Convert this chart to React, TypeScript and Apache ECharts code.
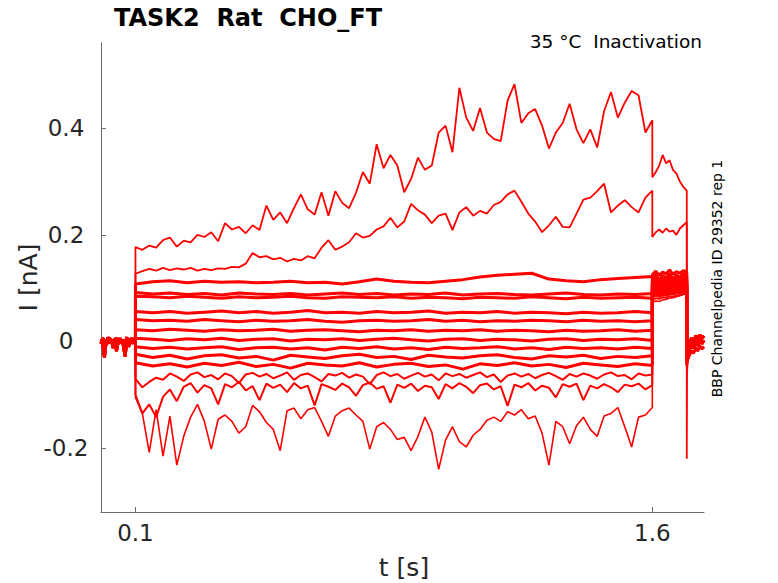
import React, { useEffect, useRef } from "react";
import * as echarts from "echarts";

// Time windows (s): holding 0..0.1, prepulse 0.1..1.6, test 1.6..1.7, tail 1.7..1.75
const xTicks = [0.1, 1.6];
const yTicks = [-0.2, 0, 0.2, 0.4];

// Holding segment, shared by the sweeps (nA)
const preA = [0.004, -0.002, -0.03, 0.003, -0.004, 0.006, 0.0, -0.006, 0.005, -0.018, 0.002, -0.003, 0.004, -0.008, -0.028, 0.003, -0.002, 0.005, -0.004, 0.002, 0.0];
const preB = [-0.004, 0.006, 0.001, -0.008, 0.008, -0.003, 0.004, -0.012, 0.002, 0.007, -0.005, 0.006, -0.002, 0.003, -0.006, 0.008, -0.01, 0.002, 0.006, -0.003, 0.004];

// Prepulse segment per sweep (nA)
const main1 = [0.177, 0.172, 0.18, 0.176, 0.19, 0.195, 0.178, 0.189, 0.186, 0.2, 0.196, 0.205, 0.188, 0.222, 0.21, 0.215, 0.203, 0.218, 0.209, 0.255, 0.228, 0.242, 0.222, 0.25, 0.276, 0.248, 0.238, 0.28, 0.236, 0.282, 0.26, 0.25, 0.279, 0.318, 0.296, 0.37, 0.325, 0.35, 0.33, 0.28, 0.305, 0.345, 0.322, 0.33, 0.392, 0.405, 0.355, 0.476, 0.42, 0.395, 0.438, 0.392, 0.38, 0.376, 0.452, 0.483, 0.41, 0.428, 0.436, 0.405, 0.362, 0.392, 0.41, 0.446, 0.398, 0.372, 0.398, 0.364, 0.432, 0.468, 0.42, 0.448, 0.47, 0.462, 0.392, 0.415];
const main2 = [0.127, 0.132, 0.136, 0.133, 0.138, 0.134, 0.137, 0.135, 0.138, 0.133, 0.136, 0.134, 0.137, 0.136, 0.14, 0.139, 0.146, 0.166, 0.158, 0.16, 0.154, 0.157, 0.15, 0.155, 0.152, 0.16, 0.156, 0.176, 0.19, 0.172, 0.178, 0.186, 0.203, 0.195, 0.198, 0.21, 0.216, 0.232, 0.214, 0.225, 0.258, 0.246, 0.238, 0.222, 0.236, 0.24, 0.209, 0.242, 0.252, 0.236, 0.245, 0.24, 0.256, 0.262, 0.276, 0.283, 0.262, 0.24, 0.225, 0.205, 0.218, 0.234, 0.215, 0.214, 0.24, 0.266, 0.27, 0.282, 0.296, 0.242, 0.255, 0.265, 0.252, 0.242, 0.27, 0.283];
const main3 = [0.108, 0.112, 0.114, 0.11, 0.113, 0.111, 0.112, 0.11, 0.111, 0.113, 0.11, 0.111, 0.108, 0.112, 0.117, 0.113, 0.111, 0.11, 0.113, 0.116, 0.121, 0.124, 0.126, 0.128, 0.117, 0.114, 0.112, 0.116, 0.118, 0.12, 0.122];
const main4 = [0.092, 0.089, 0.091, 0.088, 0.09, 0.087, 0.091, 0.089, 0.088, 0.09, 0.087, 0.089, 0.091, 0.088, 0.09, 0.087, 0.089, 0.088, 0.091, 0.087, 0.089, 0.09, 0.088, 0.087, 0.089, 0.091, 0.088, 0.087, 0.089, 0.088, 0.09];
const main5 = [0.085, 0.084, 0.082, 0.085, 0.083, 0.081, 0.084, 0.082, 0.083, 0.085, 0.082, 0.081, 0.084, 0.083, 0.082, 0.084, 0.081, 0.083, 0.082, 0.08, 0.083, 0.082, 0.081, 0.084, 0.082, 0.08, 0.083, 0.081, 0.082, 0.083, 0.081];
const main6 = [0.056, 0.054, 0.056, 0.053, 0.055, 0.057, 0.054, 0.056, 0.053, 0.055, 0.058, 0.054, 0.055, 0.053, 0.056, 0.054, 0.055, 0.057, 0.053, 0.055, 0.054, 0.056, 0.053, 0.055, 0.054, 0.052, 0.055, 0.053, 0.054, 0.056, 0.054];
const main7 = [0.041, 0.039, 0.04, 0.038, 0.041, 0.039, 0.037, 0.04, 0.038, 0.039, 0.041, 0.038, 0.036, 0.039, 0.04, 0.038, 0.039, 0.041, 0.038, 0.04, 0.037, 0.039, 0.038, 0.04, 0.039, 0.037, 0.04, 0.038, 0.039, 0.037, 0.039];
const main8 = [0.022, 0.02, 0.023, 0.021, 0.019, 0.022, 0.02, 0.021, 0.023, 0.019, 0.021, 0.022, 0.02, 0.018, 0.021, 0.02, 0.022, 0.019, 0.021, 0.02, 0.022, 0.019, 0.021, 0.02, 0.018, 0.021, 0.019, 0.02, 0.022, 0.019, 0.021];
const main9 = [0.006, 0.004, 0.002, 0.005, 0.003, 0.006, 0.002, 0.004, 0.005, 0.001, 0.004, 0.003, 0.005, 0.002, 0.004, 0.006, 0.003, 0.001, 0.004, 0.005, 0.002, 0.004, 0.003, 0.001, 0.004, 0.005, 0.002, 0.004, 0.003, 0.005, 0.002];
const main10 = [-0.01, -0.013, -0.011, -0.014, -0.012, -0.01, -0.015, -0.012, -0.011, -0.014, -0.012, -0.016, -0.011, -0.013, -0.01, -0.014, -0.012, -0.015, -0.011, -0.013, -0.012, -0.01, -0.014, -0.012, -0.015, -0.011, -0.013, -0.012, -0.014, -0.011, -0.013];
const main11 = [-0.024, -0.03, -0.026, -0.033, -0.027, -0.025, -0.031, -0.028, -0.035, -0.026, -0.029, -0.032, -0.027, -0.024, -0.03, -0.028, -0.034, -0.026, -0.029, -0.031, -0.027, -0.025, -0.03, -0.033, -0.027, -0.029, -0.026, -0.032, -0.028, -0.03, -0.027];
const main12 = [-0.04, -0.046, -0.042, -0.048, -0.041, -0.045, -0.039, -0.047, -0.043, -0.05, -0.041, -0.044, -0.046, -0.04, -0.048, -0.043, -0.041, -0.047, -0.044, -0.052, -0.042, -0.045, -0.04, -0.046, -0.043, -0.049, -0.041, -0.044, -0.047, -0.042, -0.045];
const main13 = [-0.07, -0.086, -0.076, -0.068, -0.072, -0.06, -0.066, -0.074, -0.062, -0.058, -0.067, -0.063, -0.071, -0.06, -0.065, -0.078, -0.062, -0.059, -0.066, -0.061, -0.069, -0.064, -0.058, -0.072, -0.063, -0.06, -0.067, -0.075, -0.061, -0.064, -0.059, -0.068, -0.062, -0.066, -0.08, -0.063, -0.058, -0.065, -0.061, -0.07, -0.064, -0.059, -0.066, -0.062, -0.073, -0.06, -0.065, -0.061, -0.068, -0.063, -0.058, -0.067, -0.062, -0.076, -0.064, -0.06, -0.066, -0.061, -0.069, -0.063, -0.059, -0.065, -0.072, -0.061, -0.066, -0.06, -0.064, -0.07, -0.062, -0.058, -0.065, -0.063, -0.071, -0.06, -0.064, -0.062];
const main14 = [-0.1, -0.135, -0.118, -0.142, -0.104, -0.09, -0.112, -0.085, -0.078, -0.096, -0.082, -0.088, -0.118, -0.08, -0.086, -0.076, -0.092, -0.084, -0.11, -0.079, -0.087, -0.081, -0.095, -0.078, -0.088, -0.083, -0.12, -0.08, -0.085, -0.091, -0.079, -0.086, -0.102, -0.082, -0.077, -0.089, -0.084, -0.115, -0.081, -0.087, -0.079, -0.093, -0.083, -0.086, -0.108, -0.08, -0.088, -0.078, -0.085, -0.097, -0.082, -0.079, -0.09, -0.084, -0.121, -0.081, -0.086, -0.078, -0.092, -0.083, -0.087, -0.105, -0.08, -0.085, -0.079, -0.11, -0.083, -0.088, -0.08, -0.086, -0.095, -0.081, -0.084, -0.079, -0.09, -0.082];
const main15 = [-0.105, -0.135, -0.208, -0.128, -0.215, -0.14, -0.232, -0.178, -0.142, -0.118, -0.15, -0.202, -0.146, -0.138, -0.15, -0.172, -0.16, -0.12, -0.132, -0.152, -0.165, -0.205, -0.13, -0.125, -0.145, -0.128, -0.124, -0.15, -0.178, -0.14, -0.13, -0.125, -0.138, -0.15, -0.202, -0.16, -0.152, -0.165, -0.184, -0.18, -0.205, -0.178, -0.142, -0.17, -0.24, -0.185, -0.16, -0.188, -0.198, -0.176, -0.165, -0.148, -0.142, -0.15, -0.132, -0.138, -0.128, -0.145, -0.14, -0.172, -0.232, -0.15, -0.16, -0.192, -0.158, -0.142, -0.165, -0.178, -0.14, -0.135, -0.124, -0.16, -0.198, -0.142, -0.138, -0.124];

// Test pulse segment per sweep (nA)
const test1 = [0.308, 0.318, 0.33, 0.35, 0.334, 0.34, 0.322, 0.315, 0.3, 0.29, 0.283];
const test2 = [0.196, 0.205, 0.21, 0.204, 0.212, 0.206, 0.208, 0.2, 0.212, 0.218, 0.224];
const test3 = [0.125, 0.132, 0.124, 0.13, 0.127, 0.134, 0.126, 0.131, 0.128, 0.133, 0.13];
const test4 = [0.118, 0.126, 0.115, 0.124, 0.119, 0.127, 0.117, 0.125, 0.12, 0.128, 0.122];
const test5 = [0.112, 0.12, 0.11, 0.118, 0.113, 0.121, 0.111, 0.119, 0.114, 0.122, 0.116];
const test6 = [0.108, 0.116, 0.105, 0.114, 0.109, 0.117, 0.106, 0.115, 0.11, 0.118, 0.112];
const test7 = [0.104, 0.112, 0.101, 0.11, 0.105, 0.113, 0.103, 0.111, 0.106, 0.114, 0.108];
const test8 = [0.1, 0.108, 0.098, 0.106, 0.101, 0.109, 0.099, 0.107, 0.102, 0.11, 0.105];
const test9 = [0.097, 0.105, 0.095, 0.103, 0.098, 0.106, 0.096, 0.104, 0.099, 0.107, 0.102];
const test10 = [0.094, 0.101, 0.092, 0.1, 0.095, 0.102, 0.093, 0.101, 0.096, 0.103, 0.099];
const test11 = [0.09, 0.097, 0.089, 0.096, 0.092, 0.098, 0.091, 0.097, 0.093, 0.099, 0.096];
const test12 = [0.086, 0.09, 0.087, 0.091, 0.089, 0.092, 0.09, 0.093, 0.092, 0.095, 0.096];
const test13 = [0.082, 0.086, 0.084, 0.087, 0.086, 0.089, 0.088, 0.09, 0.091, 0.093, 0.094];
const test14 = [0.078, 0.081, 0.08, 0.083, 0.082, 0.085, 0.084, 0.086, 0.087, 0.089, 0.09];
const test15 = [0.073, 0.076, 0.075, 0.078, 0.079, 0.081, 0.082, 0.084, 0.086, 0.088, 0.091];

// Tail after the test pulse
const postTimes = [1.7, 1.7008, 1.7025, 1.705, 1.709, 1.714, 1.72, 1.726, 1.732, 1.738, 1.744, 1.75];
const postSpike = [-0.22, -0.06, -0.035, -0.02, -0.012, 0.002, -0.006, 0.008, 0.0, 0.01, 0.004, 0.009];
const postHigh = [-0.01, -0.025, -0.018, -0.008, 0.0, 0.006, -0.002, 0.011, 0.004, 0.012, 0.006, 0.01];
const postMid = [-0.03, -0.036, -0.028, -0.02, -0.014, -0.006, -0.012, 0.0, -0.008, 0.004, -0.004, 0.002];
const postLow = [-0.045, -0.04, -0.034, -0.03, -0.024, -0.018, -0.022, -0.012, -0.018, -0.008, -0.014, -0.01];

const sweeps = [
  { main: main1, test: test1, post: postSpike, w: 1.8 },
  { main: main2, test: test2, post: postHigh, w: 1.8 },
  { main: main3, test: test3, post: postHigh, w: 3 },
  { main: main4, test: test4, post: postHigh, w: 3 },
  { main: main5, test: test5, post: postHigh, w: 3 },
  { main: main6, test: test6, post: postHigh, w: 3 },
  { main: main7, test: test7, post: postMid, w: 3 },
  { main: main8, test: test8, post: postMid, w: 3 },
  { main: main9, test: test9, post: postMid, w: 3 },
  { main: main10, test: test10, post: postMid, w: 3 },
  { main: main11, test: test11, post: postMid, w: 3 },
  { main: main12, test: test12, post: postLow, w: 3 },
  { main: main13, test: test13, post: postLow, w: 2 },
  { main: main14, test: test14, post: postLow, w: 2 },
  { main: main15, test: test15, post: postLow, w: 1.6 },
];

function buildTrace(pre: number[], main: number[], test: number[], post: number[]) {
  const d: number[][] = [];
  pre.forEach((v, i) => d.push([(i * 0.1) / (pre.length - 1), v]));
  main.forEach((v, i) => d.push([0.1 + (i * 1.5) / (main.length - 1), v]));
  test.forEach((v, i) => d.push([1.6 + (i * 0.1) / (test.length - 1), v]));
  post.forEach((v, i) => d.push([postTimes[i], v]));
  return d;
}

const FONT = '"DejaVu Sans", Verdana, sans-serif';

export default function App() {
  const ref = useRef<HTMLDivElement>(null);
  useEffect(() => {
    if (!ref.current) return;
    const chart = echarts.init(ref.current, undefined, { renderer: "svg" });
    const series = sweeps.map((s, k) => ({
      type: "line",
      data: buildTrace(k % 2 === 0 ? preA : preB, s.main, s.test, s.post),
      showSymbol: false,
      symbol: "none",
      silent: true,
      lineStyle: { color: "#ff0000", width: s.w, join: "bevel" },
      clip: true,
    }));
    chart.setOption({
      animation: false,
      grid: { left: 101, right: 74, top: 43, bottom: 71, containLabel: false },
      xAxis: {
        type: "value",
        min: 0,
        max: 1.75,
        axisLine: { onZero: false, lineStyle: { color: "#6b6b6b", width: 1 } },
        axisTick: { inside: true, length: 5, customValues: xTicks, lineStyle: { color: "#6b6b6b" } },
        axisLabel: { customValues: xTicks, fontSize: 23, fontFamily: FONT, color: "#262626", margin: 9 },
        splitLine: { show: false },
      },
      yAxis: {
        type: "value",
        min: -0.32,
        max: 0.56,
        axisLine: { show: true, onZero: false, lineStyle: { color: "#6b6b6b", width: 1 } },
        axisTick: { show: true, inside: true, length: 5, customValues: yTicks, lineStyle: { color: "#6b6b6b" } },
        axisLabel: { customValues: yTicks, fontSize: 23, fontFamily: FONT, color: "#262626", margin: 35, align: "center" },
        splitLine: { show: false },
      },
      graphic: [
        {
          type: "text",
          style: { text: "TASK2  Rat  CHO_FT", x: 114, y: 18, fontSize: 24, fontWeight: "bold", fontFamily: FONT, fill: "#000", align: "left", verticalAlign: "middle", textAlign: "left", textVerticalAlign: "middle" },
        },
        {
          type: "text",
          style: { text: "35 °C  Inactivation", x: 702, y: 41, fontSize: 18.5, fontFamily: FONT, fill: "#000", align: "right", verticalAlign: "middle", textAlign: "right", textVerticalAlign: "middle" },
        },
        {
          type: "text",
          x: 716.5,
          y: 278.5,
          rotation: Math.PI / 2,
          style: { text: "BBP Channelpedia ID 29352 rep 1", x: 0, y: 0, fontSize: 14, fontFamily: FONT, fill: "#000", align: "center", verticalAlign: "middle", textAlign: "center", textVerticalAlign: "middle" },
        },
        {
          type: "text",
          x: 28,
          y: 277.5,
          rotation: Math.PI / 2,
          style: { text: "I [nA]", x: 0, y: 0, fontSize: 25, fontFamily: FONT, fill: "#262626", align: "center", verticalAlign: "middle", textAlign: "center", textVerticalAlign: "middle" },
        },
        {
          type: "text",
          style: { text: "t [s]", x: 404, y: 567, fontSize: 25, fontFamily: FONT, fill: "#262626", align: "center", verticalAlign: "middle", textAlign: "center", textVerticalAlign: "middle" },
        },
      ],
      series,
    });
    return () => chart.dispose();
  }, []);
  return (
    <div
      ref={ref}
      style={{ position: "absolute", left: 0, top: 0, width: 778, height: 583, background: "#fff" }}
    />
  );
}
